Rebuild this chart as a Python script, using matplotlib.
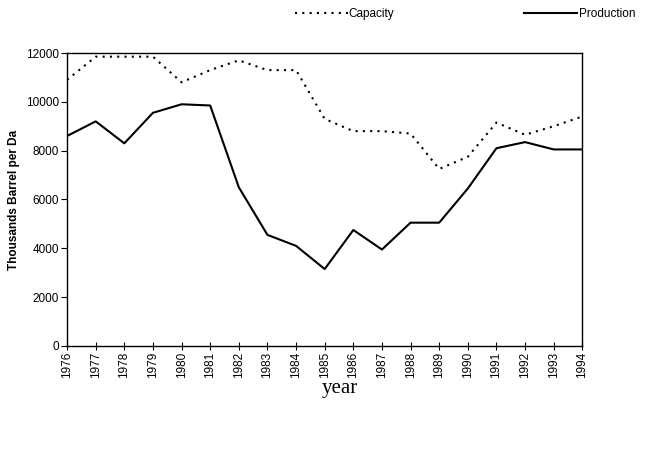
import numpy as np
import matplotlib.pyplot as plt

years = np.arange(1976, 1995)
capacity = [10900, 11850, 11850, 11850, 10800, 11300, 11700, 11300, 11300, 9300,
            8800, 8800, 8700, 7250, 7750, 9150, 8650, 9000, 9400]
production = [8600, 9200, 8300, 9550, 9900, 9850, 6500, 4550, 4100, 3150,
              4750, 3950, 5050, 5050, 6450, 8100, 8350, 8050, 8050]

plt.rcParams['font.family'] = ['Liberation Sans', 'DejaVu Sans']

fig = plt.figure(figsize=(6.64, 4.57), dpi=100)
ax = fig.add_axes([0.101, 0.243, 0.776, 0.641])

l1, = ax.plot(years, capacity, color='black', linestyle=(0, (1, 2.5)), linewidth=1.5, label='Capacity')
l2, = ax.plot(years, production, color='black', linestyle='-', linewidth=1.5, label='Production')

ax.set_xlim(1976, 1994)
ax.set_ylim(0, 12000)
ax.set_xticks(years)
ax.set_xticklabels([str(y) for y in years], rotation=90, fontsize=8.5)
ax.set_yticks(np.arange(0, 12001, 2000))
ax.tick_params(axis='y', labelsize=8.5, direction='out', length=4, pad=2)
ax.tick_params(axis='x', direction='inout', length=6, pad=1)
ax.set_ylabel('Thousands Barrel per Da', fontsize=8.5, fontweight='bold', labelpad=4)
for s in ax.spines.values():
    s.set_linewidth(1.0)

fig.text(340 / 664, 1 - 388 / 457, 'year', fontsize=15, family=['Liberation Serif', 'DejaVu Serif'],
         ha='center', va='center')

fig.legend(handles=[l1, l2], loc='center', bbox_to_anchor=(0.70, 1 - 14 / 457), ncol=2,
           frameon=False, fontsize=8.5, handlelength=4.5, handletextpad=0.1, columnspacing=11)

fig.savefig('out.png', dpi=100)
